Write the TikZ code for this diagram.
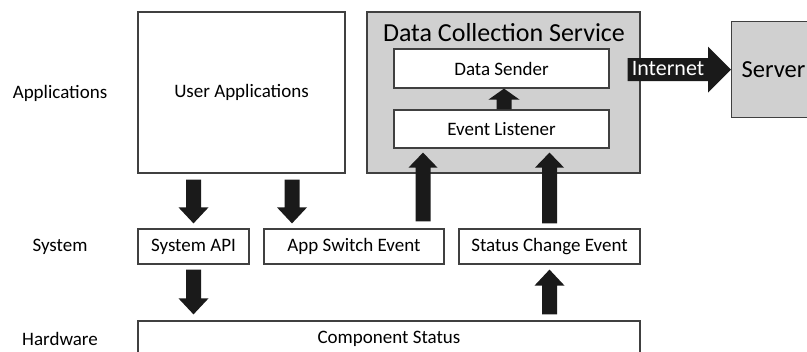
\documentclass[tikz,border=0pt]{standalone}
\usepackage{fontspec}
\setmainfont{Carlito}
\usetikzlibrary{calc}
\definecolor{boxline}{HTML}{404040}
\definecolor{dcsgray}{HTML}{D0D0D0}
\definecolor{arrowblk}{HTML}{1A1A1A}
% block arrow: #1 start, #2 tip, #3 half shaft width, #4 half head width, #5 head length
\newcommand\blockarrow[5]{%
  \fill[arrowblk]
    ($(#1)!#3!90:(#2)$) --
    ($($(#2)!#5!(#1)$)!#3!-90:(#1)$) --
    ($($(#2)!#5!(#1)$)!#4!-90:(#1)$) --
    (#2) --
    ($($(#2)!#5!(#1)$)!#4!90:(#1)$) --
    ($($(#2)!#5!(#1)$)!#3!90:(#1)$) --
    ($(#1)!#3!-90:(#2)$) -- cycle;}
\begin{document}
\begin{tikzpicture}[x=1pt,y=-1pt,
  txt/.style={font=\fontsize{19}{22}\selectfont},
  ttl/.style={font=\fontsize{26}{30}\selectfont},
  box/.style={draw=boxline, line width=1.2pt, fill=white, rectangle, inner sep=0pt, txt},
  graybox/.style={draw=boxline, line width=1.2pt, fill=dcsgray, rectangle, inner sep=0pt},
  layerlabel/.style={txt, inner sep=0pt}]
\useasboundingbox (0,0) rectangle (807,352);
\clip (0,0) rectangle (807,352);
% layer labels
\node[layerlabel] (lapp) at (60,93) {Applications};
\node[layerlabel] (lsys) at (60,247) {System};
\node[layerlabel] (lhw) at (60,339) {Hardware};
% application layer
\node[box, minimum width=207pt, minimum height=161pt] (ua) at (241.5,92.5) {User Applications};
\node[graybox, minimum width=273pt, minimum height=161pt] (dcs) at (503.5,92.5) {};
\node[ttl, inner sep=0pt] (dcst) at (504,33) {Data Collection Service};
\node[box, minimum width=215pt, minimum height=39pt] (ds) at (501.5,68.5) {Data Sender};
\node[box, minimum width=215pt, minimum height=38pt] (el) at (501.5,129) {Event Listener};
\node[graybox, anchor=north west, minimum height=96pt, text width=118pt, inner xsep=10pt, align=left, font=\fontsize{24.5}{28}\selectfont] (srv) at (731,21) {Server};
% system layer
\node[box, minimum width=111pt, minimum height=35pt] (api) at (193.5,246.5) {System API};
\node[box, minimum width=180pt, minimum height=35pt] (asw) at (354,246.5) {App Switch Event};
\node[box, minimum width=181pt, minimum height=35pt] (sce) at (549.5,246.5) {Status Change Event};
% hardware layer
\node[box, minimum width=502pt, minimum height=36pt] (comp) at (389,339) {Component Status};
% arrow end points
\coordinate (a1s) at ($(api.north |- ua.south)+(0,6)$);
\coordinate (a1e) at ($(api.north)+(0,-5)$);
\coordinate (a2s) at ($(ua.south)+(50.5,6)$);
\coordinate (a2e) at ($(a2s |- asw.north)+(0,-5)$);
\coordinate (a3s) at ($(asw.north)+(69,-7)$);
\coordinate (a3e) at ($(a3s |- el.south)+(0,4)$);
\coordinate (a4s) at ($(sce.north)+(0,-5)$);
\coordinate (a4e) at ($(sce.north |- el.south)+(0,4)$);
\coordinate (a5s) at ($(api.south)+(0,5)$);
\coordinate (a5e) at ($(api.south |- comp.north)+(0,-6)$);
\coordinate (a6s) at ($(sce.south |- comp.north)+(0,-6)$);
\coordinate (a6e) at ($(sce.south)+(0,5)$);
\coordinate (a7s) at ($(el.north)+(2.5,0)$);
\coordinate (a7e) at ($(ds.south)+(2.5,0)$);
\coordinate (a8s) at ($(dcs.east |- srv.west)+(-13,0)$);
\coordinate (a8e) at (srv.west);
% arrows
\blockarrow{a1s}{a1e}{7.5pt}{15pt}{16pt}
\blockarrow{a2s}{a2e}{7.5pt}{15pt}{16pt}
\blockarrow{a3s}{a3e}{7.5pt}{14.5pt}{15pt}
\blockarrow{a4s}{a4e}{7.5pt}{14.5pt}{15pt}
\blockarrow{a5s}{a5e}{7.5pt}{15pt}{16pt}
\blockarrow{a6s}{a6e}{7.5pt}{15pt}{16pt}
\blockarrow{a7s}{a7e}{7.5pt}{15.5pt}{11pt}
\blockarrow{a8s}{a8e}{11.5pt}{23pt}{23pt}
\node[font=\fontsize{22}{26}\selectfont, text=white, inner sep=0pt] (inet) at (668,69) {Internet};
\end{tikzpicture}
\end{document}
